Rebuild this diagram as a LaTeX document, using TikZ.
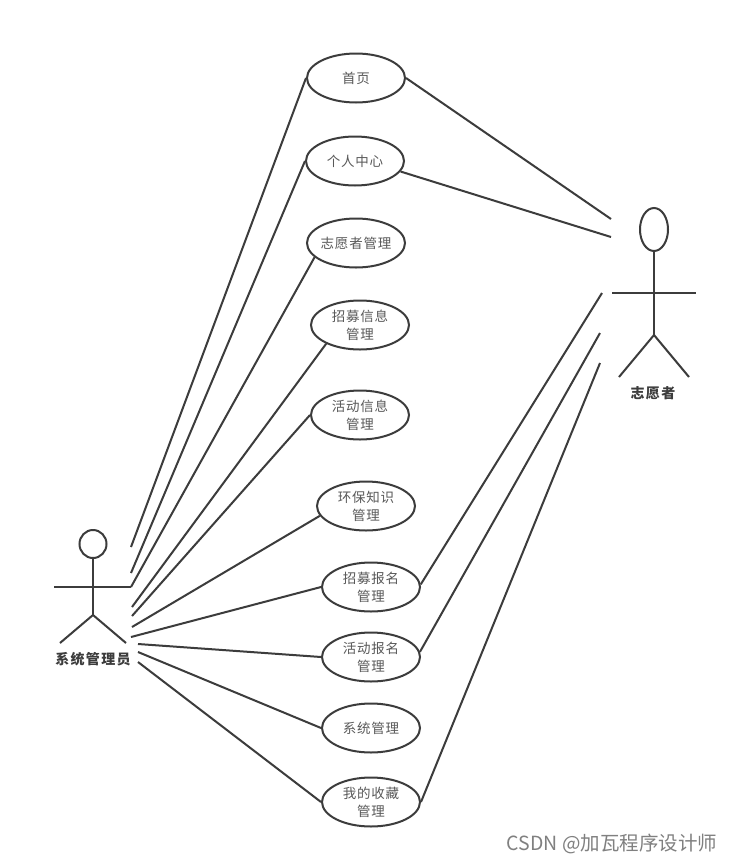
\documentclass[tikz,border=0pt]{standalone}
\usepackage{fontspec}
\setmainfont{Noto Sans CJK SC}
\usetikzlibrary{shapes.geometric}
\definecolor{ink}{HTML}{3C3C3C}
\tikzset{
  usecase/.style={ellipse,draw=ink,line width=2pt,minimum width=98pt,minimum height=49pt,inner sep=-3pt,align=center,text=ink!85!white,font=\fontsize{13.5pt}{18pt}\selectfont\addfontfeature{LetterSpace=6}},
  link/.style={draw=ink,line width=2pt},
  limb/.style={draw=ink,line width=2pt},
  head/.style={ellipse,draw=ink,line width=2pt,inner sep=0pt},
  actorname/.style={text=ink,font=\fontsize{14pt}{15pt}\selectfont\bfseries\addfontfeature{LetterSpace=9},inner sep=0pt}
}
\begin{document}
\begin{tikzpicture}[x=1pt,y=-1pt]
\useasboundingbox[fill=white] (0,0) rectangle (733,863);
% use cases
\node[usecase] (n1) at (356,78) {首页};
\node[usecase] (n2) at (355,161) {个人中心};
\node[usecase] (n3) at (356,243) {志愿者管理};
\node[usecase] (n4) at (360,325) {招募信息\\管理};
\node[usecase] (n5) at (360,415) {活动信息\\管理};
\node[usecase] (n6) at (366,506) {环保知识\\管理};
\node[usecase] (n7) at (371,587) {招募报名\\管理};
\node[usecase] (n8) at (371,657) {活动报名\\管理};
\node[usecase] (n9) at (371,728) {系统管理};
\node[usecase] (n10) at (371,802) {我的收藏\\管理};
% left actor
\node[head,minimum width=27pt,minimum height=28pt] (ah) at (93,544) {};
\coordinate (ahip) at (93,615);
\coordinate (aal) at (54,587);
\coordinate (aar) at (131,587);
\coordinate (all) at (60,643);
\coordinate (alr) at (126,643);
\draw[limb] (ah.south) -- (ahip);
\draw[limb] (aal) -- (aar);
\draw[limb] (all) -- (ahip) -- (alr);
\node[actorname] (al) at (93,659) {系统管理员};
% right actor
\node[head,minimum width=28pt,minimum height=43pt] (bh) at (654,229.5) {};
\coordinate (bhip) at (654,335);
\coordinate (bal) at (612,293);
\coordinate (bar) at (696,293);
\coordinate (bll) at (619,377);
\coordinate (blr) at (689,377);
\draw[limb] (bh.south) -- (bhip);
\draw[limb] (bal) -- (bar);
\draw[limb] (bll) -- (bhip) -- (blr);
\node[actorname] (bl) at (653,393) {志愿者};
% free ends near the left actor
\coordinate (l1) at (131,547);
\coordinate (l2) at (131,573);
\coordinate (l3) at (131,587);
\coordinate (l4) at (132,607);
\coordinate (l5) at (132,616);
\coordinate (l6) at (132,627);
\coordinate (l7) at (131,637);
\coordinate (l8) at (138,644);
\coordinate (l9) at (138,652);
\coordinate (l10) at (138,662);
\draw[link] (l1) -- (n1.west);
\draw[link] (l2) -- (n2.west);
\draw[link] (l3) -- (n3.199);
\draw[link] (l4) -- (n4.209);
\draw[link] (l5) -- (n5.west);
\draw[link] (l6) -- (n6.192);
\draw[link] (l7) -- (n7.west);
\draw[link] (l8) -- (n8.west);
\draw[link] (l9) -- (n9.west);
\draw[link] (l10) -- (n10.west);
% free ends near the right actor
\coordinate (r1) at (611,219);
\coordinate (r2) at (611,237);
\coordinate (r3) at (602,293);
\coordinate (r4) at (600,333);
\coordinate (r5) at (600,363);
\draw[link] (n1.east) -- (r1);
\draw[link] (n2.-13) -- (r2);
\draw[link] (n7.3) -- (r3);
\draw[link] (n8.6) -- (r4);
\draw[link] (n10.east) -- (r5);
\node[text=black!50,inner sep=0pt,font=\fontsize{19.5pt}{22pt}\selectfont] (wm) at (612,844) {CSDN @加瓦程序设计师};
\end{tikzpicture}
\end{document}
